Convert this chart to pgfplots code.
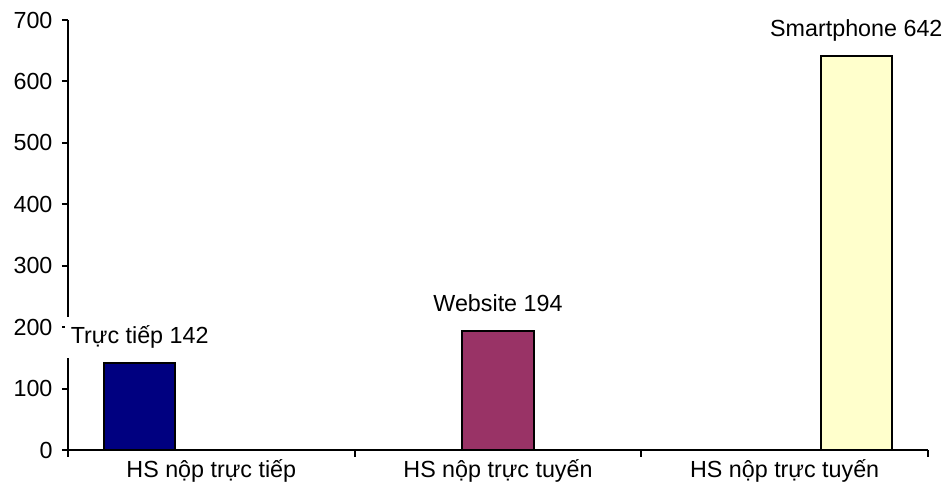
\documentclass[border=0pt]{standalone}
\usepackage{fontspec}
\setmainfont{Liberation Sans}
\usepackage{pgfplots}
\pgfplotsset{compat=1.18}
\usetikzlibrary{calc}
\definecolor{barnavy}{RGB}{0,0,128}
\definecolor{barplum}{RGB}{153,51,102}
\definecolor{barcream}{RGB}{255,255,204}
\begin{document}
\begin{tikzpicture}
\begin{axis}[
    scale only axis,
    width=860pt, height=430pt,
    xmin=0, xmax=3, ymin=0, ymax=700,
    ytick={0,100,...,700},
    xtick={0.5,1.5,2.5},
    xticklabels={HS nộp trực tiếp, HS nộp trực tuyến, HS nộp trực tuyến},
    minor xtick={0,1,2,3},
    axis x line*=bottom, axis y line*=left,
    axis line style={line width=2pt},
    tick align=outside,
    major tick length=6pt, minor tick length=7pt,
    tick style={line width=2pt, black},
    major x tick style={draw=none},
    yticklabel style={xshift=-6pt},
    /pgf/number format/assume math mode=true,
    font=\fontsize{23.3}{28}\selectfont,
    ybar, bar width=0.25, bar shift=0pt,
    enlargelimits=false, clip=false,
    nodes near coords style={font=\fontsize{23.3}{28}\selectfont, anchor=base,
        yshift=19pt, fill=white, inner ysep=9pt, inner xsep=6pt},
]
\addplot[draw=black, line width=2pt, fill=barnavy,
    nodes near coords={Trực tiếp \pgfmathprintnumber{\pgfplotspointmeta}}]
    coordinates {(0.25,142)};
\addplot[draw=black, line width=2pt, fill=barplum,
    nodes near coords={Website \pgfmathprintnumber{\pgfplotspointmeta}}]
    coordinates {(1.5,194)};
\addplot[draw=black, line width=2pt, fill=barcream,
    nodes near coords={Smartphone \pgfmathprintnumber{\pgfplotspointmeta}}]
    coordinates {(2.75,642)};
\end{axis}
\pgfresetboundingbox
\path[use as bounding box] ($(current axis.south west)+(-68pt,-48pt)$) rectangle ($(current axis.south west)+(878pt,450pt)$);
\end{tikzpicture}
\end{document}
